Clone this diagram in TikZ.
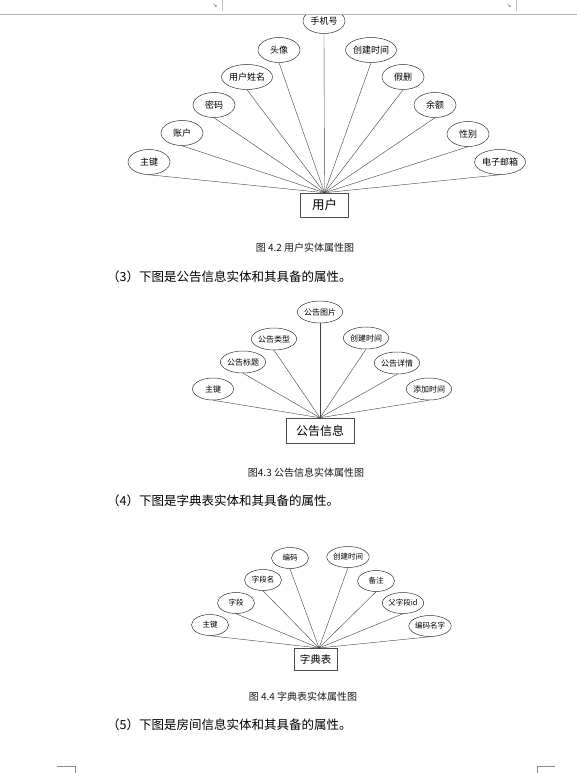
\documentclass[tikz,border=0pt]{standalone}
\usepackage{fontspec}
\newfontfamily\cjk{Noto Sans CJK SC}
\newfontfamily\dejavu{DejaVu Sans}
\usetikzlibrary{shapes.geometric}
\begin{document}
\begin{tikzpicture}[x=1pt,y=-1pt,
  lnk/.style={line width=0.4pt, draw=black!75},
  attrA/.style={draw=black!80, ellipse, line width=0.5pt, minimum width=42pt, minimum height=25pt, inner sep=0pt, font=\cjk\fontsize{9}{9}\selectfont},
  attrB/.style={draw=black!80, ellipse, line width=0.5pt, minimum width=41pt, minimum height=22pt, inner sep=0pt, font=\cjk\fontsize{8}{8}\selectfont},
  attrC/.style={draw=black!80, ellipse, line width=0.5pt, minimum width=37pt, minimum height=21pt, inner sep=0pt, font=\cjk\fontsize{7.5}{7.5}\selectfont},
  entity/.style={draw=black!70, rectangle, line width=0.5pt, inner sep=0pt, fill=white},
  caption/.style={font=\cjk\fontsize{10}{10}\selectfont, inner sep=0pt, text=black!90},
  para/.style={font=\cjk\fontsize{12.5}{12.5}\selectfont, inner sep=0pt, anchor=west},
  corner/.style={draw=black!45, line width=0.6pt}
]
\useasboundingbox (0,0) rectangle (577,773);
\fill[white] (0,0) rectangle (577,773);

% ---------- Diagram 1 ----------
\node[entity, minimum width=48pt, minimum height=24pt, font=\cjk\fontsize{12.5}{12.5}\selectfont] (u) at (324.5,205) {用户};
\node[attrA] (u1) at (149,162) {主键};
\node[attrA] (u2) at (182,133) {账户};
\node[attrA] (u3) at (214,105) {密码};
\node[attrA] (u4) at (247,77) {用户姓名};
\node[attrA] (u5) at (279,50) {头像};
\node[attrA] (u6) at (324,21) {手机号};
\node[attrA] (u7) at (371,50) {创建时间};
\node[attrA] (u8) at (403,77) {假删};
\node[attrA] (u9) at (435,105) {余额};
\node[attrA] (u10) at (468,134) {性别};
\node[attrA] (u11) at (500,162) {电子邮箱};
\foreach \i in {1,...,11} \draw[lnk] (u\i.south) -- (u.north);

% ---------- Diagram 2 ----------
\node[entity, minimum width=68pt, minimum height=25pt, font=\cjk\fontsize{12}{12}\selectfont] (n) at (320,430.5) {公告信息};
\node[attrB] (n1) at (213,389) {主键};
\node[attrB] (n2) at (243,362) {公告标题};
\node[attrB] (n3) at (274,339) {公告类型};
\node[attrB] (n4) at (320,312) {公告图片};
\node[attrB] (n5) at (366,338) {创建时间};
\node[attrB] (n6) at (397,363) {公告详情};
\node[attrB] (n7) at (429,389) {添加时间};
\foreach \i in {1,...,7} \draw[lnk] (n\i.south) -- (n.north);

% ---------- Diagram 3 ----------
\node[entity, minimum width=43pt, minimum height=22pt, font=\cjk\fontsize{10.5}{10.5}\selectfont] (d) at (315.5,659) {字典表};
\coordinate (dh) at (319,648);
\node[attrC] (d1) at (210,625) {主键};
\node[attrC] (d2) at (236,603) {字段};
\node[attrC] (d3) at (263,580) {字段名};
\node[attrC] (d4) at (290,558) {编码};
\node[attrC] (d5) at (348,557) {创建时间};
\node[attrC] (d6) at (376,581) {备注};
\node[attrC] (d7) at (403,603) {父字段id};
\node[attrC] (d8) at (430,626) {编码名字};
\foreach \i in {1,...,8} \draw[lnk] (d\i.south) -- (dh);

% ---------- Text ----------
\node[caption] (c1) at (305,248) {图 4.2 用户实体属性图};
\node[para] (p3) at (107,277) {（3）下图是公告信息实体和其具备的属性。};
\node[caption] (c2) at (306,473) {图4.3 公告信息实体属性图};
\node[para] (p4) at (107,501) {（4）下图是字典表实体和其具备的属性。};
\node[caption] (c3) at (303,697) {图 4.4 字典表实体属性图};
\node[para] (p5) at (107,725) {（5）下图是房间信息实体和其具备的属性。};

% ---------- Top ribbon ----------
\fill[white] (0,0) rectangle (577,14);
\draw[draw=black!30, line width=1.2pt] (0,14.5) -- (577,14.5);
\draw[draw=black!25, line width=0.6pt] (222.5,0) -- (222.5,11);
\draw[draw=black!25, line width=0.6pt] (516.5,0) -- (516.5,11);
\node[font=\dejavu\fontsize{6}{6}\selectfont, text=black!60, inner sep=0pt] (g1) at (215,6) {↘};
\node[font=\dejavu\fontsize{6}{6}\selectfont, text=black!60, inner sep=0pt] (g2) at (509,6) {↘};

% ---------- Corner marks ----------
\draw[corner] (57,766) -- (75,766) -- (75,773);
\draw[corner] (555,766) -- (537,766) -- (537,773);
\end{tikzpicture}
\end{document}
